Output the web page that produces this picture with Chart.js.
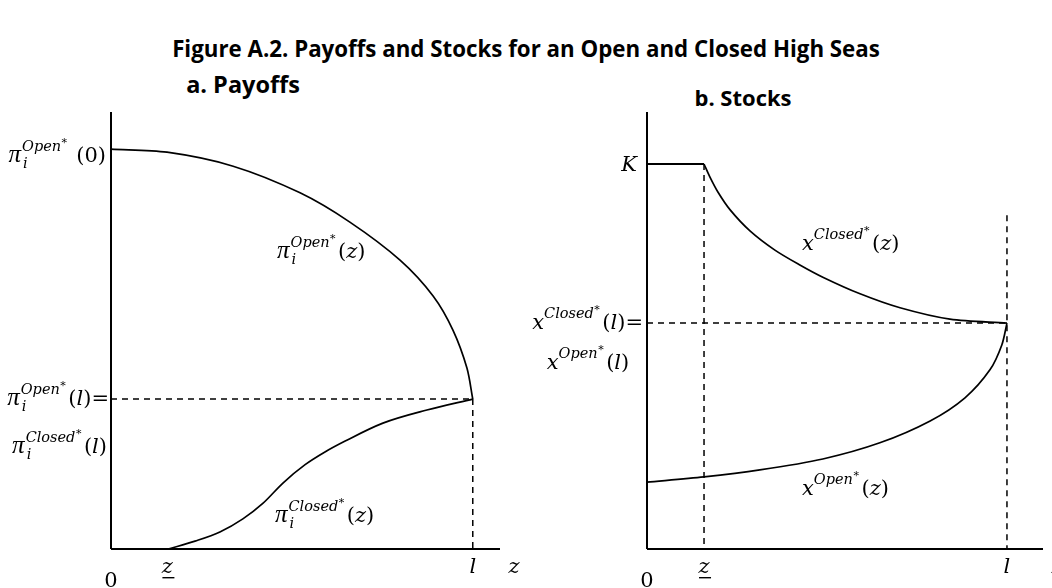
<!DOCTYPE html>
<html>
<head>
<meta charset="utf-8">
<script src="https://cdn.jsdelivr.net/npm/chart.js@4.4.0/dist/chart.umd.min.js"></script>
<style>
  body { margin: 0; background: #fff; width: 1052px; height: 588px; overflow: hidden; position: relative; }
  .ttl { position: absolute; font-family: 'Open Sans', sans-serif; font-weight: 700; color: #000; white-space: nowrap; line-height: 1; }
  canvas { position: absolute; top: 0; }
</style>
</head>
<body>
<div class="ttl" id="main-title" style="left:0;width:1052px;text-align:center;top:38px;font-size:22.3px">Figure A.2. Payoffs and Stocks for an Open and Closed High Seas</div>
<div class="ttl" style="left:143px;width:200px;text-align:center;top:73px;font-size:23.5px">a. Payoffs</div>
<div class="ttl" style="left:643px;width:200px;text-align:center;top:86px;font-size:22px">b. Stocks</div>
<div style="position:absolute;left:0;top:0;width:526px;height:588px"><canvas id="chart-payoffs"></canvas></div>
<div style="position:absolute;left:520px;top:0;width:532px;height:588px"><canvas id="chart-stocks"></canvas></div>
<script>
// Payoffs and stocks, open vs closed high seas (schematic, axis units 0..10)

const X_MAX = 10;
const Y_MAX = 10;

// a. Payoffs
const payoffZLow = 1.45;
const payoffL = 9.3;
const payoffOpenZ = [0, 1.44, 3.14, 4.86, 6.14, 7.43, 8.28, 8.79, 9.15, 9.3];
const payoffOpenV = [9.15, 9.08, 8.76, 8.15, 7.48, 6.61, 5.79, 5.01, 4.14, 3.43];
const payoffClosedZ = [1.47, 2.16, 2.80, 3.39, 3.91, 4.42, 4.99, 5.50, 6.02, 6.99, 8.12, 9.3];
const payoffClosedV = [0, 0.18, 0.39, 0.69, 1.05, 1.51, 1.93, 2.22, 2.47, 2.88, 3.18, 3.43];

// b. Stocks
const stockK = 8.81;
const stockZLow = 1.44;
const stockL = 9.09;
const stockLTop = 7.64;
const stockClosedZ = [1.44, 1.59, 1.79, 2.10, 2.60, 3.23, 3.86, 4.44, 5.38, 6.39, 7.65, 9.09];
const stockClosedV = [8.81, 8.51, 8.17, 7.76, 7.28, 6.84, 6.50, 6.22, 5.84, 5.52, 5.26, 5.17];
const stockOpenZ = [0, 1.44, 2.85, 4.44, 5.88, 7.15, 8.03, 8.66, 8.96, 9.09];
const stockOpenV = [1.53, 1.65, 1.81, 2.06, 2.43, 2.93, 3.46, 4.10, 4.67, 5.17];

const pts = (xs, ys) => xs.map((x, i) => ({ x, y: ys[i] }));

const MATH_FONT = '"DejaVu Serif", "Liberation Serif", serif';
const mfont = (it, sz, fam) => `${it ? 'italic ' : ''}${sz}px ${fam || MATH_FONT}`;
const BASE = 21, SMALL = 14.5;

function runMath(ctx, parts, x0, y, draw) {
  let x = x0;
  for (const p of parts) {
    if (p.sup != null || p.sub != null) {
      let w = 0, ws = 0;
      if (p.sup) {
        ctx.font = mfont(true, SMALL);
        if (draw) ctx.fillText(p.sup, x, y - 11);
        w = ctx.measureText(p.sup).width;
        ctx.font = mfont(false, 11);
        if (draw) ctx.fillText('*', x + w + 0.5, y - 16);
        w += ctx.measureText('*').width + 1;
      }
      if (p.sub) {
        ctx.font = mfont(true, SMALL);
        if (draw) ctx.fillText(p.sub, x + 1, y + 6);
        ws = ctx.measureText(p.sub).width + 1;
      }
      x += Math.max(w, ws) + 2;
    } else {
      ctx.font = p.t === 'π' ? mfont(true, 25, '"Liberation Serif", serif') : mfont(p.it, BASE);
      if (draw) ctx.fillText(p.t, x, y);
      x += ctx.measureText(p.t).width + (p.t === 'π' ? 1 : 0);
    }
  }
  return x - x0;
}

function drawMath(ctx, parts, x, y, align) {
  const w = runMath(ctx, parts, 0, y, false);
  const sx = align === 'right' ? x - w : align === 'center' ? x - w / 2 : x;
  runMath(ctx, parts, sx, y, true);
}

function symLabel(sym, sub, sup, arg, tail) {
  const parts = [{ t: sym, it: true }, { sup, sub }];
  if (arg === '0') parts.push({ t: ' (0)', it: false });
  else parts.push({ t: '(', it: false }, { t: arg, it: true }, { t: ')', it: false });
  if (tail) parts.push({ t: tail, it: false });
  return parts;
}

function axisTexts(ctx, X, Y, zLow, l) {
  ctx.fillStyle = '#000';
  ctx.textBaseline = 'alphabetic';
  ctx.textAlign = 'left';
  drawMath(ctx, [{ t: '0', it: false }], X(0), Y(0) + 38, 'center');
  drawMath(ctx, [{ t: 'z', it: true }], X(zLow), Y(0) + 24, 'center');
  ctx.fillRect(X(zLow) - 5, Y(0) + 28, 12, 1.4);
  drawMath(ctx, [{ t: 'l', it: true }], X(l), Y(0) + 24, 'center');
  drawMath(ctx, [{ t: 'z', it: true }], X(X_MAX) + 14, Y(0) + 24, 'center');
}

const payoffLabels = {
  id: 'payoffLabels',
  afterDatasetsDraw(chart) {
    const ctx = chart.ctx;
    const X = v => chart.scales.x.getPixelForValue(v);
    const Y = v => chart.scales.y.getPixelForValue(v);
    const yL = payoffOpenV[payoffOpenV.length - 1];
    ctx.save();
    ctx.fillStyle = '#000';
    drawMath(ctx, symLabel('π', 'i', 'Open', '0'), X(0) - 5, Y(payoffOpenV[0]) + 13, 'right');
    drawMath(ctx, symLabel('π', 'i', 'Open', 'l', '='), X(0) - 2, Y(yL) + 6, 'right');
    drawMath(ctx, symLabel('π', 'i', 'Closed', 'l'), X(0) - 4, Y(yL) + 54, 'right');
    drawMath(ctx, symLabel('π', 'i', 'Open', 'z'), X(0) + 166, Y(0) - 291, 'left');
    drawMath(ctx, symLabel('π', 'i', 'Closed', 'z'), X(0) + 164, Y(0) - 27, 'left');
    axisTexts(ctx, X, Y, payoffZLow, payoffL);
    ctx.restore();
  }
};

const stockLabels = {
  id: 'stockLabels',
  afterDatasetsDraw(chart) {
    const ctx = chart.ctx;
    const X = v => chart.scales.x.getPixelForValue(v);
    const Y = v => chart.scales.y.getPixelForValue(v);
    const yL = stockClosedV[stockClosedV.length - 1];
    ctx.save();
    ctx.fillStyle = '#000';
    drawMath(ctx, [{ t: 'K', it: true }], X(0) - 10, Y(stockK) + 7, 'right');
    drawMath(ctx, [{ t: 'x', it: true }, { sup: 'Closed' }, { t: '(', it: false }, { t: 'l', it: true }, { t: ')=', it: false }], X(0) - 4, Y(yL) + 6, 'right');
    drawMath(ctx, [{ t: 'x', it: true }, { sup: 'Open' }, { t: '(', it: false }, { t: 'l', it: true }, { t: ')', it: false }], X(0) - 59, Y(yL) + 46, 'center');
    drawMath(ctx, [{ t: 'x', it: true }, { sup: 'Closed' }, { t: '(', it: false }, { t: 'z', it: true }, { t: ')', it: false }], X(0) + 155, Y(0) - 299, 'left');
    drawMath(ctx, [{ t: 'x', it: true }, { sup: 'Open' }, { t: '(', it: false }, { t: 'z', it: true }, { t: ')', it: false }], X(0) + 155, Y(0) - 54, 'left');
    axisTexts(ctx, X, Y, stockZLow, stockL);
    ctx.restore();
  }
};

const solid = (data, w, smooth) => ({
  data, borderColor: '#000', borderWidth: w, pointRadius: 0, showLine: true, clip: false,
  tension: smooth ? 0.3 : 0,
  cubicInterpolationMode: smooth === 'mono' ? 'monotone' : 'default',
});
const dashed = data => ({
  data, borderColor: '#000', borderWidth: 1.5, borderDash: [6, 5], pointRadius: 0, showLine: true, clip: false,
});

function chartOptions(padding) {
  return {
    responsive: true,
    maintainAspectRatio: false,
    animation: false,
    layout: { padding },
    plugins: { legend: { display: false }, tooltip: { enabled: false }, title: { display: false } },
    scales: {
      x: { type: 'linear', min: 0, max: X_MAX, display: false },
      y: { type: 'linear', min: 0, max: Y_MAX, display: false },
    },
  };
}

new Chart(document.getElementById('chart-payoffs'), {
  type: 'scatter',
  data: {
    datasets: [
      dashed([{ x: 0, y: payoffOpenV[payoffOpenV.length - 1] }, { x: payoffL, y: payoffOpenV[payoffOpenV.length - 1] }]),
      dashed([{ x: payoffL, y: payoffOpenV[payoffOpenV.length - 1] }, { x: payoffL, y: 0 }]),
      solid(pts(payoffOpenZ, payoffOpenV), 1.7, true),
      solid(pts(payoffClosedZ, payoffClosedV), 1.7, 'mono'),
      solid([{ x: 0, y: 0 }, { x: 0, y: Y_MAX }], 2, false),
      solid([{ x: 0, y: 0 }, { x: X_MAX, y: 0 }], 2, false),
    ]
  },
  options: chartOptions({ left: 111, right: 26, top: 112, bottom: 39 }),
  plugins: [payoffLabels],
});

new Chart(document.getElementById('chart-stocks'), {
  type: 'scatter',
  data: {
    datasets: [
      dashed([{ x: stockZLow, y: stockK }, { x: stockZLow, y: 0 }]),
      dashed([{ x: 0, y: stockClosedV[stockClosedV.length - 1] }, { x: stockL, y: stockClosedV[stockClosedV.length - 1] }]),
      dashed([{ x: stockL, y: stockLTop }, { x: stockL, y: 0 }]),
      solid([{ x: 0, y: stockK }, { x: stockZLow, y: stockK }], 1.8, false),
      solid(pts(stockClosedZ, stockClosedV), 1.7, true),
      solid(pts(stockOpenZ, stockOpenV), 1.7, true),
      solid([{ x: 0, y: 0 }, { x: 0, y: Y_MAX }], 2, false),
      solid([{ x: 0, y: 0 }, { x: X_MAX, y: 0 }], 2, false),
    ]
  },
  options: chartOptions({ left: 127, right: 9, top: 112, bottom: 39 }),
  plugins: [stockLabels],
});
</script>
</body>
</html>
